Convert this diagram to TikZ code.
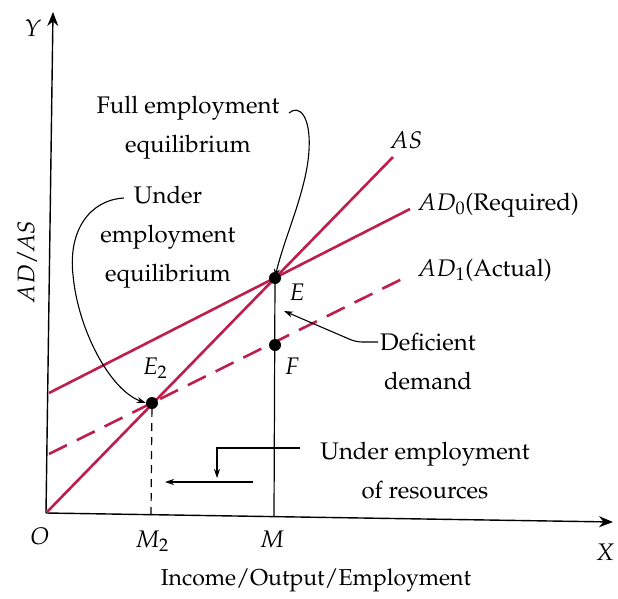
\documentclass[tikz,border=0pt]{standalone}
\usepackage[T1]{fontenc}
\usepackage{mathpazo}
\usetikzlibrary{arrows.meta}
\definecolor{adred}{RGB}{190,30,75}
\begin{document}
\begin{tikzpicture}[x=1pt,y=-1pt,
  axis/.style={line width=1.4pt,-{Stealth[length=14pt,width=11pt]}},
  redline/.style={adred,line width=2.6pt},
  thinline/.style={line width=1.2pt},
  pointer/.style={line width=1.1pt,-{Stealth[length=9pt,width=6pt]}},
  dot/.style={circle,fill=black,inner sep=0pt,minimum size=12pt},
  txt/.style={inner sep=0pt,font=\fontsize{24}{39}\selectfont,align=center},
  lab/.style={inner sep=0pt,font=\fontsize{24}{28}\selectfont}]
\useasboundingbox (0,0) rectangle (618,599);
% axes
\coordinate (O) at (46,513);
\coordinate (Ytip) at (53,12);
\coordinate (Xtip) at (613,522);
\draw[axis] (O) -- (Ytip);
\draw[axis] (O) -- (Xtip);
% curves
\coordinate (ASs) at (47,512);
\coordinate (ASe) at (393,157);
\coordinate (AD0s) at (49,393);
\coordinate (AD0e) at (410,209);
\coordinate (AD1s) at (49,454);
\coordinate (AD1e) at (406,277);
\draw[redline] (ASs) -- (ASe);
\draw[redline] (AD0s) -- (AD0e);
\draw[redline,dash pattern=on 20pt off 11pt] (AD1s) -- (AD1e);
% points
\node[dot] (E) at (275,278) {};
\node[dot] (F) at (275,345) {};
\node[dot] (E2) at (152,403) {};
\coordinate (M) at (274,516);
\coordinate (M2) at (151,515);
\draw[thinline] (E) -- (M);
\draw[thinline,dash pattern=on 8pt off 6pt] (E2) -- (M2);
% labels
\node[lab] (lY) at (33,28) {$Y$};
\node[lab] (lX) at (605,552) {$X$};
\node[lab] (lO) at (40,536) {$O$};
\node[lab] (lM2) at (152,541) {$M_2$};
\node[lab] (lM) at (272,539) {$M$};
\node[lab] (lE) at (297,292) {$E$};
\node[lab] (lF) at (292,366) {$F$};
\node[lab] (lE2) at (155,368) {$E_2$};
\node[lab] (lAS) at (406,140) {$AS$};
\node[lab,anchor=west] (lAD0) at (417,205) {$AD_0$(Required)};
\node[lab,anchor=west] (lAD1) at (417,270) {$AD_1$(Actual)};
\node[lab,rotate=90] (lADAS) at (27,262) {$AD/\!AS$};
\node[lab,font=\fontsize{23}{28}\selectfont] (lInc) at (316,580) {Income/Output/Employment};
% annotations
\node[txt] (tFull) at (188,128) {Full employment\\equilibrium};
\node[txt] (tUnder) at (168,237) {Under\\employment\\equilibrium};
\node[txt] (tDef) at (428,362) {Deficient\\demand};
\node[txt] (tRes) at (425,471) {Under employment\\of resources};
\coordinate (cFull) at (289,113);
\coordinate (cUnder) at (124,198);
\coordinate (cDef) at (378,342);
\coordinate (cDefTip) at (284,311);
\coordinate (cRes) at (300,448);
\coordinate (cResTip) at (217,478);
\coordinate (cArrS) at (253,482);
\coordinate (cArrT) at (165,482);
\draw[pointer] (cFull) .. controls (299,104) and (311,116) .. (309,150)
  .. controls (307,190) and (284,238) .. ([yshift=-6pt]E.north);
\draw[pointer] (cUnder) .. controls (90,200) and (68,230) .. (73,275)
  .. controls (78,330) and (110,390) .. (E2.west);
\draw[pointer,rounded corners=6pt] (cDef) -- (356,342) -- (cDefTip);
\draw[pointer] (cRes) -| (cResTip);
\draw[pointer] (cArrS) -- (cArrT);
\end{tikzpicture}
\end{document}
